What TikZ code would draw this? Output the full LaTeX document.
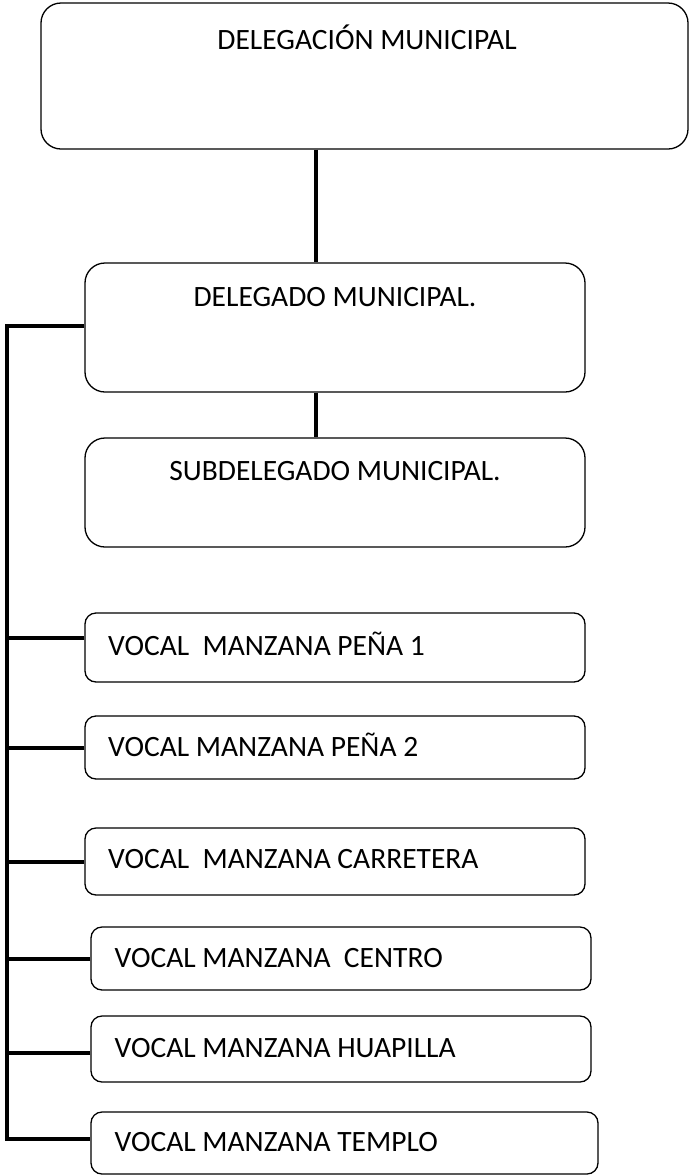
\documentclass[tikz,border=0pt]{standalone}
\usepackage{fontspec}
\setmainfont{Carlito}
\usetikzlibrary{positioning}
\tikzset{
    every picture/.style={font=\fontsize{29.5}{34}\selectfont},
    caja/.style={draw, line width=1.3pt, rounded corners=20pt, inner sep=0pt},
    vocal/.style={caja, rounded corners=11pt, minimum width=500pt},
    linea/.style={line width=4pt}
}

\begin{document}
\begin{tikzpicture}[x=1pt,y=-1pt]
    \useasboundingbox (0,0) rectangle (690,1176);
    % cajas
    \node[caja, minimum width=647pt, minimum height=146pt] (delegacion) at (364.5,76) {};
    \node[caja, minimum width=500pt, minimum height=129pt] (delegado) at (335,327.5) {};
    \node[caja, minimum width=500pt, minimum height=109pt] (subdelegado) at (335,492.5) {};
    \node[vocal, minimum height=69pt] (pena1) at (335,647.5) {};
    \node[vocal, minimum height=63pt] (pena2) at (335,747.5) {};
    \node[vocal, minimum height=67pt] (carretera) at (335,861.5) {};
    \node[vocal, minimum height=63pt] (centro) at (341,958.5) {};
    \node[vocal, minimum height=66pt] (huapilla) at (341,1049) {};
    \node[vocal, minimum width=507pt, minimum height=62pt] (templo) at (344.5,1143) {};
    % textos
    \node[anchor=base] (t1) at (367,49) {DELEGACIÓN MUNICIPAL};
    \node[anchor=base] (t2) at (335,306.7) {DELEGADO MUNICIPAL.};
    \node[anchor=base] (t3) at (335,480.7) {SUBDELEGADO MUNICIPAL.};
    \node[anchor=base west, inner sep=0pt] (t4) at (108,655) {VOCAL\ \ MANZANA PEÑA 1};
    \node[anchor=base west, inner sep=0pt] (t5) at (108,756.7) {VOCAL MANZANA PEÑA 2};
    \node[anchor=base west, inner sep=0pt] (t6) at (108,868.3) {VOCAL\ \ MANZANA CARRETERA};
    \node[anchor=base west, inner sep=0pt] (t7) at (114.5,967.7) {VOCAL MANZANA\ \ CENTRO};
    \node[anchor=base west, inner sep=0pt] (t8) at (114.5,1057.7) {VOCAL MANZANA HUAPILLA};
    \node[anchor=base west, inner sep=0pt] (t9) at (114.5,1151.7) {VOCAL MANZANA TEMPLO};
    % lineas
    \coordinate (tronco) at (316,0);
    \coordinate (lado) at (7,0);
    \draw[linea] (delegacion.south -| tronco) -- (delegado.north -| tronco);
    \draw[linea] (delegado.south -| tronco) -- (subdelegado.north -| tronco);
    \draw[linea] ([yshift=2pt]delegado.west) -- ([yshift=2pt]delegado.west -| lado)
        -- ([yshift=4pt]templo.west -| lado) -- ([yshift=4pt]templo.west);
    \draw[linea] ([yshift=10pt]pena1.west) -- ([yshift=10pt]pena1.west -| lado);
    \draw[linea] (pena2.west) -- (pena2.west -| lado);
    \draw[linea] (carretera.west) -- (carretera.west -| lado);
    \draw[linea] (centro.west) -- (centro.west -| lado);
    \draw[linea] ([yshift=-4pt]huapilla.west) -- ([yshift=-4pt]huapilla.west -| lado);
\end{tikzpicture}
\end{document}
